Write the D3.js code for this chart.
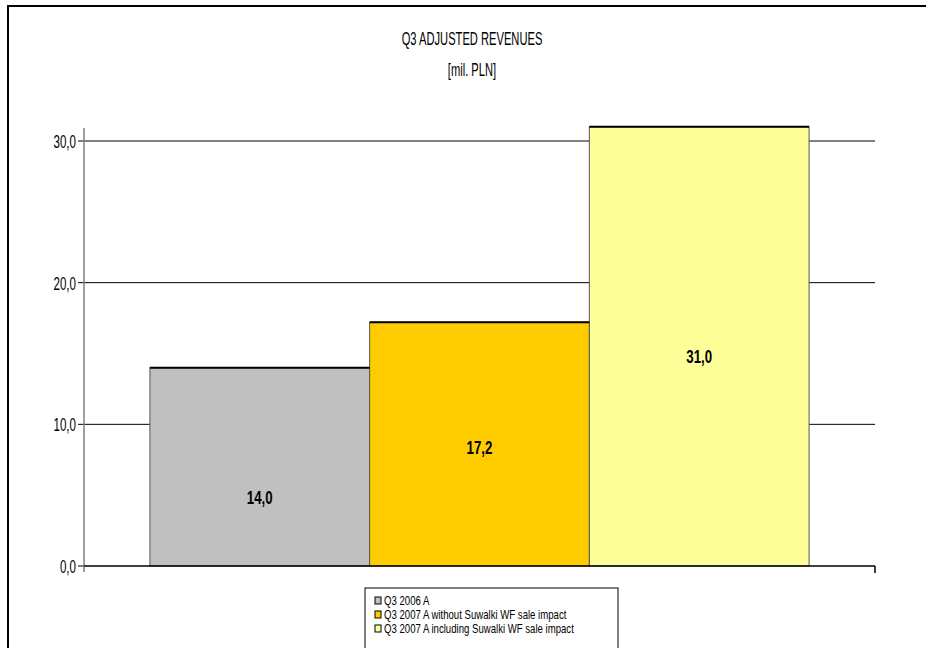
<!DOCTYPE html>
<html>
<head>
<meta charset="utf-8">
<script src="https://cdn.jsdelivr.net/npm/d3@7"></script>
<style>
  body { margin: 0; background: #fff; }
  text { font-family: "Liberation Sans", Arial, sans-serif; }
</style>
</head>
<body>
<svg id="chart" width="926" height="648"></svg>
<script>
const series = ['Q3 2006 A', 'Q3 2007 A without Suwalki WF sale impact', 'Q3 2007 A including Suwalki WF sale impact'];
const values = [14.0, 17.2, 31.0];
const colors = ['#C0C0C0', '#FFCC00', '#FFFF99'];
const yTicks = [0, 10, 20, 30];
// where the value labels sit, in data units
const labelAt = [4.9, 8.4, 14.8];

const svg = d3.select('#chart');
const fmt = v => d3.format('.1f')(v).replace('.', ',');

// the original uses a narrow face; squeeze a normal sans horizontally
function narrow(sel, x, y, size, sx) {
    const g = sel.append('g').attr('transform', `translate(${x},${y})`);
    return g.append('text')
        .attr('transform', `scale(${sx},1)`)
        .style('font-size', size + 'px');
}

// outer chart frame
svg.append('path')
    .attr('d', 'M8,660 L8,6 L940,6')
    .attr('fill', 'none')
    .attr('stroke', '#000')
    .attr('stroke-width', 2);

// title
narrow(svg, 472, 45, 18, 0.62).attr('text-anchor', 'middle').text('Q3 ADJUSTED REVENUES');
narrow(svg, 472, 76, 18, 0.62).attr('text-anchor', 'middle').text('[mil. PLN]');

const plot = { left: 84, right: 875, top: 141, bottom: 566 };

const y = d3.scaleLinear()
    .domain([0, 30])
    .range([plot.bottom, plot.top]);

// one category, three series, gap 60%
const x = d3.scaleBand()
    .domain(series)
    .range([plot.left, plot.right])
    .paddingInner(0)
    .paddingOuter(0.3);

// gridlines
svg.append('g').selectAll('line')
    .data(yTicks.filter(d => d > 0)).enter()
    .append('line')
    .attr('x1', plot.left).attr('x2', plot.right)
    .attr('y1', d => y(d)).attr('y2', d => y(d))
    .attr('stroke', '#000').attr('stroke-width', 1);

// bars
const bars = svg.append('g');
bars.selectAll('rect')
    .data(values).enter()
    .append('rect')
    .attr('x', (d, i) => x(series[i]))
    .attr('y', d => y(d))
    .attr('width', x.bandwidth())
    .attr('height', d => plot.bottom - y(d))
    .attr('fill', (d, i) => colors[i])
    .attr('stroke', '#555')
    .attr('stroke-width', 1);
bars.selectAll('line.top')
    .data(values).enter()
    .append('line')
    .attr('class', 'top')
    .attr('x1', (d, i) => x(series[i]))
    .attr('x2', (d, i) => x(series[i]) + x.bandwidth())
    .attr('y1', d => y(d)).attr('y2', d => y(d))
    .attr('stroke', '#000').attr('stroke-width', 2);

// value labels
values.forEach((d, i) => {
    narrow(svg, x(series[i]) + x.bandwidth() / 2, y(labelAt[i]) + 7, 19, 0.7)
        .attr('text-anchor', 'middle')
        .style('font-weight', 'bold')
        .text(fmt(d));
});

// y axis ticks + labels
const yAxis = svg.append('g');
yAxis.selectAll('line')
    .data(yTicks).enter()
    .append('line')
    .attr('x1', plot.left - 6).attr('x2', plot.left)
    .attr('y1', d => y(d)).attr('y2', d => y(d))
    .attr('stroke', '#000');
yTicks.forEach(t => {
    narrow(yAxis, plot.left - 8, y(t) + 7, 19, 0.61)
        .attr('text-anchor', 'end')
        .text(fmt(t));
});
svg.append('line')
    .attr('x1', plot.left).attr('x2', plot.left)
    .attr('y1', 128).attr('y2', plot.bottom + 6)
    .attr('stroke', '#808080').attr('stroke-width', 1.5);

// x axis baseline
svg.append('line')
    .attr('x1', plot.left).attr('x2', plot.right)
    .attr('y1', plot.bottom).attr('y2', plot.bottom)
    .attr('stroke', '#000').attr('stroke-width', 1.5);
svg.append('line')
    .attr('x1', plot.right).attr('x2', plot.right)
    .attr('y1', plot.bottom).attr('y2', plot.bottom + 7)
    .attr('stroke', '#000').attr('stroke-width', 1.5);

// legend
const legend = svg.append('g').attr('transform', 'translate(365,588)');
legend.append('rect')
    .attr('x', 0).attr('y', 0).attr('width', 253).attr('height', 80)
    .attr('fill', '#fff').attr('stroke', '#000').attr('stroke-width', 1);
series.forEach((s, i) => {
    const item = legend.append('g').attr('transform', `translate(10,${12 + i * 14})`);
    item.append('rect')
        .attr('x', 0).attr('y', -3).attr('width', 6).attr('height', 7)
        .attr('fill', colors[i])
        .attr('stroke', '#000').attr('stroke-width', 1);
    narrow(item, 9, 5, 12, 0.8).text(s);
});
</script>
</body>
</html>
